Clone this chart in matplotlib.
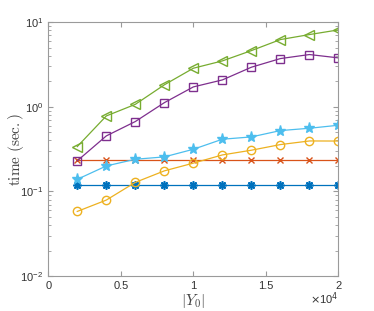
import matplotlib
matplotlib.use('Agg')
import matplotlib.pyplot as plt

plt.rcParams['mathtext.fontset'] = 'cm'
plt.rcParams['font.family'] = ['Liberation Sans', 'DejaVu Sans']

# |Y0| sizes
sizes = [2000, 4000, 6000, 8000, 10000, 12000, 14000, 16000, 18000, 20000]

# timings (sec.) per method
t_blue = [0.118] * 10
t_orange = [0.238] * 10
t_yellow = [0.058, 0.079, 0.128, 0.175, 0.216, 0.270, 0.307, 0.358, 0.395, 0.394]
t_purple = [0.23, 0.453, 0.67, 1.12, 1.72, 2.08, 2.94, 3.72, 4.15, 3.79]
t_green = [0.339, 0.78, 1.07, 1.82, 2.86, 3.49, 4.62, 6.24, 7.15, 8.12]
t_cyan = [0.139, 0.200, 0.240, 0.256, 0.315, 0.414, 0.441, 0.524, 0.558, 0.606]

xticks = [0, 5000, 10000, 15000, 20000]
xticklabels = ['0', '0.5', '1', '1.5', '2']

fig = plt.figure(figsize=(3.74, 3.11), dpi=100)
ax = fig.add_axes([0.129, 0.1125, 0.776, 0.816])

lw = 0.9
ax.plot(sizes, t_blue, '-', marker=(8, 2, 0), color='#0072BD', lw=lw, ms=6, mew=1.2)
ax.plot(sizes, t_orange, '-x', color='#D95319', lw=lw, ms=5)
ax.plot(sizes, t_yellow, '-o', color='#EDB120', lw=lw, ms=6, mfc='none')
ax.plot(sizes, t_purple, '-s', color='#7E2F8E', lw=lw, ms=5.5, mfc='none')
ax.plot(sizes, t_green, '-<', color='#77AC30', lw=lw, ms=7, mfc='none')
ax.plot(sizes, t_cyan, '-*', color='#4DBEEE', lw=lw, ms=8)

ax.set_yscale('log')
ax.set_ylim(1e-2, 1e1)
ax.set_xlim(0, 20000)
ax.set_xticks(xticks)
ax.set_xticklabels(xticklabels)

for s in ax.spines.values():
    s.set_color('#9a9a9a')
    s.set_linewidth(0.8)
ax.tick_params(which='both', direction='in', top=True, right=True,
               color='#9a9a9a', labelcolor='#333333', labelsize=8)
ax.tick_params(which='major', length=3.5)
ax.tick_params(which='minor', length=2)

ax.set_ylabel(r'$\mathrm{time\ (sec.)}$', fontsize=11, color='#444444')
ax.yaxis.set_label_coords(-0.078, 0.5)
ax.set_xlabel(r'$|Y_0|$', fontsize=11, color='#444444', labelpad=1)
ax.text(1.0, -0.058, r'$\times$10$^{4}$', transform=ax.transAxes, ha='right',
        va='top', fontsize=8, color='#333333', math_fontfamily='dejavusans')

fig.savefig('out.png', dpi=100)
